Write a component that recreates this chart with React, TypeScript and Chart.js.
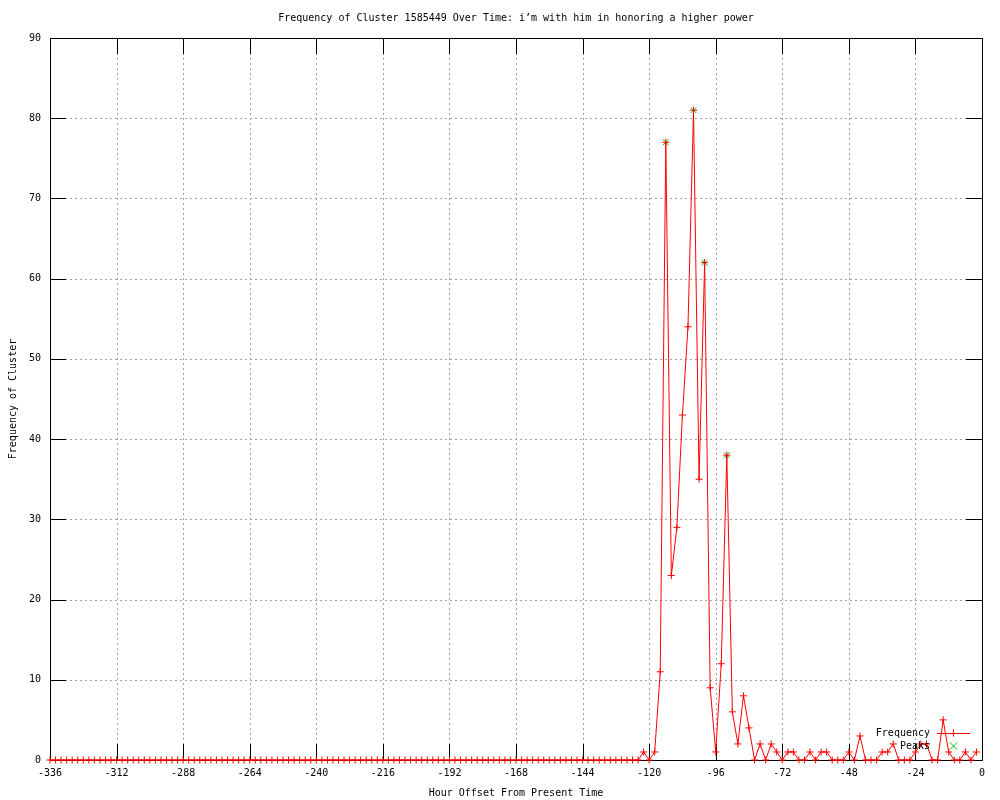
import React, { useEffect, useRef } from "react";
import { Chart, registerables } from "chart.js";

Chart.register(...registerables);

const TITLE = "Frequency of Cluster 1585449 Over Time: i\u2019m with him in honoring a higher power";
const X_TITLE = "Hour Offset From Present Time";
const Y_TITLE = "Frequency of Cluster";

const START_HOUR = -336;
const STEP_HOURS = 2;

// one value every 2 hours, from -336 h up to -2 h
const frequency = [
  0, 0, 0, 0, 0, 0, 0, 0, 0, 0,
  0, 0, 0, 0, 0, 0, 0, 0, 0, 0,
  0, 0, 0, 0, 0, 0, 0, 0, 0, 0,
  0, 0, 0, 0, 0, 0, 0, 0, 0, 0,
  0, 0, 0, 0, 0, 0, 0, 0, 0, 0,
  0, 0, 0, 0, 0, 0, 0, 0, 0, 0,
  0, 0, 0, 0, 0, 0, 0, 0, 0, 0,
  0, 0, 0, 0, 0, 0, 0, 0, 0, 0,
  0, 0, 0, 0, 0, 0, 0, 0, 0, 0,
  0, 0, 0, 0, 0, 0, 0, 0, 0, 0,
  0, 0, 0, 0, 0, 0, 0,
  1, 0, 1, 11, 77, 23, 29, 43, 54, 81,
  35, 62, 9, 1, 12, 38, 6, 2, 8, 4,
  0, 2, 0, 2, 1, 0, 1, 1, 0, 0,
  1, 0, 1, 1, 0, 0, 0, 1, 0, 3,
  0, 0, 0, 1, 1, 2, 0, 0, 0, 1,
  2, 2, 0, 0, 5, 1, 0, 0, 1, 0,
  1,
];

const peakHours = [-114, -104, -100, -92];
const peakValues = [77, 81, 62, 38];

const xTickValues = [-336, -312, -288, -264, -240, -216, -192, -168, -144, -120, -96, -72, -48, -24, 0];
const yTickValues = [0, 10, 20, 30, 40, 50, 60, 70, 80, 90];

const hours = frequency.map((_, i) => START_HOUR + i * STEP_HOURS);

const FONT_FAMILY = "'DejaVu Sans Mono', 'Liberation Mono', monospace";
const RED = "#ff0000";
const GREEN = "#00c000";
const TICK_LEN = 16;

const framePlugin = {
  id: "gnuFrame",
  beforeDatasetsDraw(chart: any) {
    const { ctx, chartArea: a, scales } = chart;
    const xs = scales.x;
    const ys = scales.y;
    ctx.save();
    ctx.lineWidth = 1;
    // dotted grid
    ctx.strokeStyle = "#a0a0a0";
    ctx.setLineDash([2, 3]);
    ctx.beginPath();
    xTickValues.forEach((v, i) => {
      if (i === 0 || i === xTickValues.length - 1) return;
      const px = Math.round(xs.getPixelForValue(v)) + 0.5;
      ctx.moveTo(px, a.top);
      ctx.lineTo(px, a.bottom);
    });
    yTickValues.forEach((v, i) => {
      if (i === 0 || i === yTickValues.length - 1) return;
      const py = Math.round(ys.getPixelForValue(v)) + 0.5;
      ctx.moveTo(a.left, py);
      ctx.lineTo(a.right, py);
    });
    ctx.stroke();
    // ticks and border
    ctx.setLineDash([]);
    ctx.strokeStyle = "#000000";
    ctx.beginPath();
    xTickValues.forEach((v) => {
      const px = Math.round(xs.getPixelForValue(v)) + 0.5;
      ctx.moveTo(px, a.bottom);
      ctx.lineTo(px, a.bottom - TICK_LEN);
      ctx.moveTo(px, a.top);
      ctx.lineTo(px, a.top + TICK_LEN);
    });
    yTickValues.forEach((v) => {
      const py = Math.round(ys.getPixelForValue(v)) + 0.5;
      ctx.moveTo(a.left, py);
      ctx.lineTo(a.left + TICK_LEN, py);
      ctx.moveTo(a.right, py);
      ctx.lineTo(a.right - TICK_LEN, py);
    });
    ctx.stroke();
    ctx.strokeRect(
      Math.round(a.left) + 0.5,
      Math.round(a.top) + 0.5,
      Math.round(a.right - a.left),
      Math.round(a.bottom - a.top)
    );
    ctx.restore();
  },
  afterDraw(chart: any) {
    const { ctx, chartArea: a } = chart;
    ctx.save();
    ctx.fillStyle = "#000000";
    ctx.font = `10px ${FONT_FAMILY}`;
    ctx.textBaseline = "middle";
    // title
    ctx.textAlign = "center";
    ctx.fillText(TITLE, (a.left + a.right) / 2, 18);
    // x title
    ctx.fillText(X_TITLE, (a.left + a.right) / 2, 793);
    // y title
    ctx.save();
    ctx.translate(13, (a.top + a.bottom) / 2);
    ctx.rotate(-Math.PI / 2);
    ctx.fillText(Y_TITLE, 0, 0);
    ctx.restore();
    // legend
    const textRight = a.right - 52;
    const lx0 = a.right - 45;
    const lx1 = a.right - 12;
    const lmid = (lx0 + lx1) / 2;
    const y1 = a.bottom - 27;
    const y2 = a.bottom - 14;
    ctx.textAlign = "right";
    ctx.fillText("Frequency", textRight, y1);
    ctx.fillText("Peaks", textRight, y2);
    ctx.lineWidth = 1;
    ctx.strokeStyle = RED;
    ctx.beginPath();
    ctx.moveTo(lx0, Math.round(y1) + 0.5);
    ctx.lineTo(lx1, Math.round(y1) + 0.5);
    ctx.moveTo(lmid, y1 - 3.5);
    ctx.lineTo(lmid, y1 + 3.5);
    ctx.stroke();
    ctx.strokeStyle = GREEN;
    ctx.beginPath();
    ctx.moveTo(lmid - 3.5, y2 - 3.5);
    ctx.lineTo(lmid + 3.5, y2 + 3.5);
    ctx.moveTo(lmid - 3.5, y2 + 3.5);
    ctx.lineTo(lmid + 3.5, y2 - 3.5);
    ctx.stroke();
    ctx.restore();
  },
};

export default function App() {
  const canvasRef = useRef<HTMLCanvasElement | null>(null);

  useEffect(() => {
    document.body.style.margin = "0";
    const canvas = canvasRef.current;
    if (!canvas) return;
    const chart = new Chart(canvas, {
      type: "line",
      data: {
        datasets: [
          {
            label: "Peaks",
            data: peakHours.map((h, i) => ({ x: h, y: peakValues[i] })),
            showLine: false,
            pointStyle: "crossRot",
            pointRadius: 4,
            pointBorderWidth: 1,
            pointBorderColor: GREEN,
            pointBackgroundColor: GREEN,
            borderColor: GREEN,
            clip: false as any,
            order: 2,
          },
          {
            label: "Frequency",
            data: hours.map((h, i) => ({ x: h, y: frequency[i] })),
            borderColor: RED,
            borderWidth: 1,
            pointStyle: "cross",
            pointRadius: 3.5,
            pointBorderWidth: 1,
            pointBorderColor: RED,
            pointBackgroundColor: RED,
            tension: 0,
            fill: false,
            clip: false as any,
            order: 1,
          },
        ],
      },
      options: {
        animation: false,
        responsive: false,
        maintainAspectRatio: false,
        devicePixelRatio: 1,
        layout: { padding: { top: 38, right: 18, left: 0, bottom: 0 } },
        plugins: {
          legend: { display: false },
          title: { display: false },
          tooltip: { enabled: false },
        },
        scales: {
          x: {
            type: "linear",
            min: -336,
            max: 0,
            afterBuildTicks: (scale: any) => {
              scale.ticks = xTickValues.map((v) => ({ value: v }));
            },
            afterFit: (scale: any) => {
              scale.height = 40;
              scale.paddingLeft = 0;
              scale.paddingRight = 0;
            },
            grid: { display: false, drawTicks: false },
            border: { display: false },
            ticks: {
              autoSkip: false,
              maxRotation: 0,
              padding: 7,
              color: "#000000",
              font: { family: FONT_FAMILY, size: 10 },
            },
          },
          y: {
            type: "linear",
            min: 0,
            max: 90,
            afterBuildTicks: (scale: any) => {
              scale.ticks = yTickValues.map((v) => ({ value: v }));
            },
            afterFit: (scale: any) => {
              scale.width = 50;
              scale.paddingTop = 0;
              scale.paddingBottom = 0;
            },
            grid: { display: false, drawTicks: false },
            border: { display: false },
            ticks: {
              autoSkip: false,
              padding: 9,
              color: "#000000",
              font: { family: FONT_FAMILY, size: 10 },
            },
          },
        },
      },
      plugins: [framePlugin],
    });
    return () => chart.destroy();
  }, []);

  return (
    <div style={{ position: "absolute", left: 0, top: 0, width: 1000, height: 800, background: "#ffffff" }}>
      <canvas ref={canvasRef} width={1000} height={800} style={{ width: 1000, height: 800, display: "block" }} />
    </div>
  );
}
